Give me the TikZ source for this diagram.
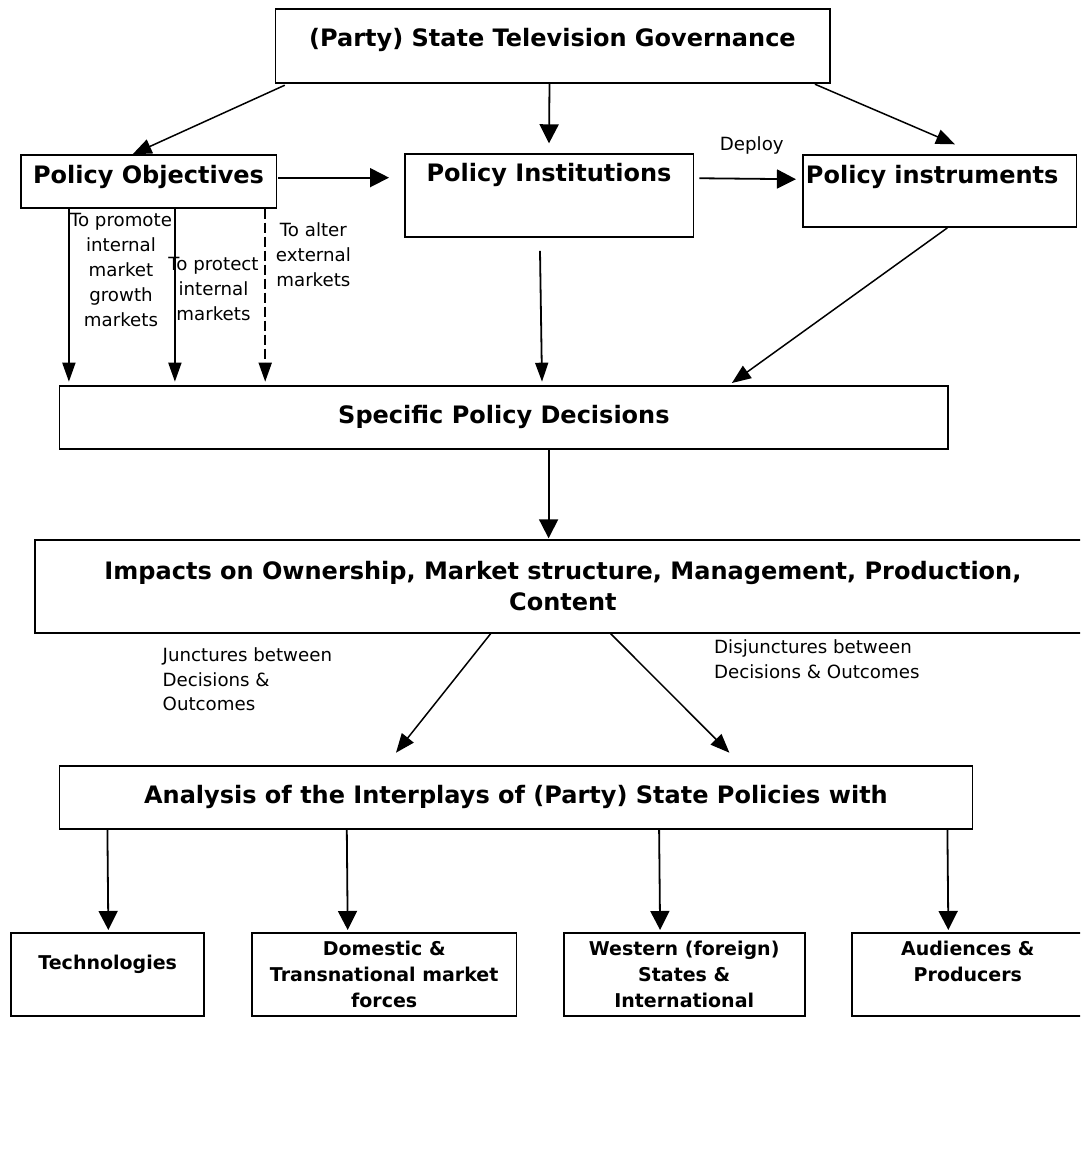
\documentclass[tikz,border=0pt]{standalone}
\usepackage{fontspec}
\setmainfont{DejaVu Sans}
\usepackage{tikz}
\usetikzlibrary{arrows.meta,calc,positioning}

\begin{document}
\begin{tikzpicture}[x=1pt,y=1pt,
    box/.style={draw, line width=1.9pt, anchor=north west, inner sep=0pt, align=center, font=\fontsize{24}{31}\selectfont\bfseries},
    smallbox/.style={box, font=\fontsize{19}{26}\selectfont\bfseries},
    lbl/.style={inner sep=0pt, align=center, font=\fontsize{18.2}{24.8}\selectfont},
    arr/.style={line width=1.8pt, -{Triangle[length=19pt,width=19pt]}},
    slim/.style={line width=1.8pt, -{Triangle[length=19pt,width=13pt]}},
    diag/.style={line width=1.5pt, -{Triangle[length=19pt,width=15pt]}}]
    \useasboundingbox (0,0) rectangle (1080,-1175);
    \clip (0,0) rectangle (1080,-1175);

    % Boxes
    \node [box, minimum width=554.1pt, minimum height=74pt, text height=37.45pt, text depth=36.55pt] (gov) at (274.5,-8.3) {(Party) State Television Governance};
    \node [box, minimum width=255.9pt, minimum height=52.4pt, text height=28.45pt, text depth=23.95pt] (obj) at (19.6,-154.3) {Policy Objectives};
    \node [box, minimum width=288.9pt, minimum height=82.7pt, text height=27.15pt, text depth=55.55pt] (inst) at (403.6,-153.3) {Policy Institutions};
    \node [box, inner xsep=2.6pt, text width=267.9pt, align=left, minimum height=71.7pt, text height=27.75pt, text depth=43.95pt] (instr) at (802.4,-154.3) {Policy instruments};
    \node [box, minimum width=888.9pt, minimum height=62.7pt] (dec) at (58.5,-385) {Specific Policy Decisions};
    \node [box, minimum width=1055.2pt, minimum height=92.4pt] (imp) at (34.4,-539.3) {Impacts on Ownership, Market structure, Management, Production,\\Content};
    \node [box, minimum width=913pt, minimum height=62.7pt] (ana) at (58.5,-765) {Analysis of the Interplays of (Party) State Policies with};
    \node [smallbox, minimum width=192.9pt, minimum height=83.3pt, text height=36.9pt, text depth=46.4pt] (tech) at (10.3,-931.7) {Technologies};
    \node [smallbox, minimum width=264.5pt, minimum height=83.3pt] (dom) at (251,-931.7) {Domestic \&\\Transnational market\\forces};
    \node [smallbox, minimum width=241.1pt, minimum height=83.3pt] (west) at (562.7,-931.7) {Western (foreign)\\States \&\\International};
    \node [smallbox, minimum width=231.8pt, minimum height=83.3pt] (aud) at (851,-931.7) {Audiences \&\\Producers\\~};

    % Labels
    \node [lbl] (promote) at (121,-270) {To promote\\internal\\market\\growth\\markets};
    \node [lbl] (protect) at (213.5,-289.2) {To protect\\internal\\markets};
    \node [lbl] (alter) at (313.4,-255) {To alter\\external\\markets};
    \node [lbl] (deploy) at (751.8,-145.8) {Deploy};
    \node [lbl, anchor=west, align=left] (junct) at (162.5,-679.4) {Junctures between\\Decisions \&\\Outcomes};
    \node [lbl, anchor=west, align=left] (disj) at (714,-659.5) {Disjunctures between\\Decisions \& Outcomes};

    % Governance
    \draw [diag] ($(gov.south west)+(10.3,-1)$) -- ($(obj.north west)+(113,0)$);
    \draw [arr] ($(gov.south)+(-3,0)$) -- ($(inst.north)+(0,10)$);
    \draw [diag] ($(gov.south east)+(-15.6,0)$) -- ($(instr.north west)+(152.6,10)$);
    \draw [arr] ($(obj.east)+(1,3.8)$) -- ($(inst.west |- obj.east)+(-14.6,3.8)$);
    \draw [arr] ($(inst.east)+(4.9,17.35)$) -- ($(instr.west)+(-6.5,11.9)$);

    % Objectives
    \draw [slim] ($(obj.south west)+(49.3,0)$) -- ($(obj.south west |- dec.north)+(49.3,3.3)$);
    \draw [slim] ($(obj.south west)+(155.3,0)$) -- ($(obj.south west |- dec.north)+(155.3,3.3)$);
    \draw [slim, dash pattern=on 10pt off 4pt] ($(obj.south west)+(245.6,0)$) -- ($(obj.south west |- dec.north)+(245.6,3.3)$);
    \draw [slim] ($(inst.south)+(-9,-13)$) -- ($(inst.south |- dec.north)+(-7,3.3)$);
    \draw [diag] ($(instr.south)+(7.4,0)$) -- ($(dec.north)+(228,2)$);

    % Decisions and impacts
    \draw [arr] ($(dec.south)+(44.7,0)$) -- ($(dec.south |- imp.north)+(44.7,1)$);
    \draw [diag] ($(imp.south west)+(456.3,0)$) -- ($(ana.north west)+(337.5,12.3)$);
    \draw [diag] ($(imp.south west)+(576.2,0)$) -- ($(ana.north west)+(670.9,12.3)$);

    % Interplays
    \draw [arr] ($(ana.south west)+(48.9,0)$) -- ($(tech.north)+(0.65,1.7)$);
    \draw [arr] ($(ana.south west)+(288.3,0)$) -- ($(dom.north)+(-36.5,1.7)$);
    \draw [arr] ($(ana.south west)+(600.6,0)$) -- ($(west.north)+(-24.1,1.7)$);
    \draw [arr] ($(ana.south west)+(888.9,0)$) -- ($(aud.north)+(-19.5,1.7)$);
\end{tikzpicture}
\end{document}
